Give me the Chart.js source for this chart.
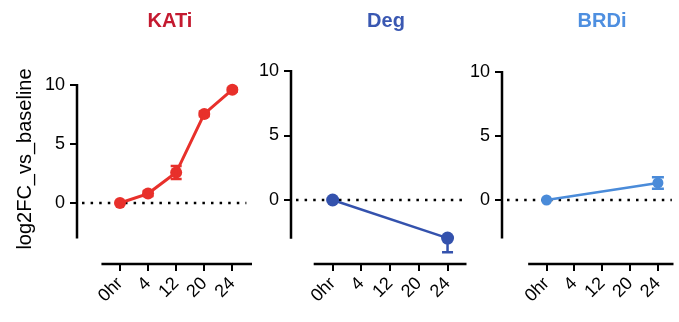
<!DOCTYPE html>
<html>
<head>
<meta charset="utf-8">
<script src="https://cdn.jsdelivr.net/npm/chart.js@4/dist/chart.umd.min.js"></script>
<style>
  body { margin: 0; background: #fff; width: 679px; height: 322px; overflow: hidden; position: relative; }
  canvas { position: absolute; top: 0; }
</style>
</head>
<body>
<canvas id="kati" width="258" height="322" style="left:0"></canvas>
<canvas id="deg" width="223" height="322" style="left:250px"></canvas>
<canvas id="brdi" width="217" height="322" style="left:462px"></canvas>
<script>
const timeLabels = ['0hr', '4', '12', '20', '24'];
const yTickValues = [0, 5, 10];

const katiValues = [0, 0.8, 2.58, 7.55, 9.6];
const katiErrLow = [0, 0.2, 0.55, 0.2, 0.15];
const katiErrHigh = [0, 0.2, 0.55, 0.2, 0.15];

const degValues = [0, null, null, null, -2.95];
const degErrLow = [0, 0, 0, 0, 1.1];
const degErrHigh = [0, 0, 0, 0, 0];

const brdiValues = [0, null, null, null, 1.33];
const brdiErrLow = [0, 0, 0, 0, 0.45];
const brdiErrHigh = [0, 0, 0, 0, 0.45];

const FONT = '"Liberation Sans", Arial, Helvetica, sans-serif';

const toPoints = (values, lo, hi) =>
    values.map((v, i) => ({ x: i, y: v, lo: lo[i], hi: hi[i] })).filter(p => p.y !== null);

// prism style: y axis ends at -3, x axis detached below, dotted zero line, error bars, titles
const panelDecor = {
    id: 'panelDecor',
    beforeDatasetsDraw(chart, args, opts) {
        const { ctx, chartArea: area, scales: { x, y } } = chart;
        ctx.save();
        ctx.strokeStyle = '#000';
        ctx.lineWidth = 2.5;
        ctx.setLineDash([2.5, 6.1]);
        ctx.beginPath();
        ctx.moveTo(area.left + 5, y.getPixelForValue(0));
        ctx.lineTo(x.getPixelForValue(4.5), y.getPixelForValue(0));
        ctx.stroke();
        ctx.setLineDash([]);
        ctx.lineWidth = 2.5;
        ctx.beginPath();
        ctx.moveTo(area.left, y.getPixelForValue(10) - 1);
        ctx.lineTo(area.left, y.getPixelForValue(-3));
        ctx.moveTo(x.getPixelForValue(-0.66), area.bottom);
        ctx.lineTo(area.right, area.bottom);
        ctx.stroke();
        ctx.restore();
    },
    afterDatasetsDraw(chart, args, opts) {
        const { ctx, scales: { x, y } } = chart;
        ctx.save();
        ctx.strokeStyle = opts.color;
        ctx.lineWidth = 2.5;
        chart.data.datasets[0].data.forEach(p => {
            if (!p.lo && !p.hi) return;
            const px = x.getPixelForValue(p.x);
            const top = y.getPixelForValue(p.y + p.hi);
            const bot = y.getPixelForValue(p.y - p.lo);
            const c = opts.capWidth / 2;
            ctx.beginPath();
            ctx.moveTo(px, top);
            ctx.lineTo(px, bot);
            if (p.hi) { ctx.moveTo(px - c, top); ctx.lineTo(px + c, top); }
            if (p.lo) { ctx.moveTo(px - c, bot); ctx.lineTo(px + c, bot); }
            ctx.stroke();
        });
        ctx.restore();
    },
    afterDraw(chart, args, opts) {
        const { ctx } = chart;
        ctx.save();
        ctx.fillStyle = opts.titleColor;
        ctx.font = 'bold 20px ' + FONT;
        ctx.textAlign = 'center';
        ctx.textBaseline = 'middle';
        ctx.fillText(opts.title, opts.titleX, 21);
        if (opts.yTitle) {
            ctx.fillStyle = '#000';
            ctx.font = '20px ' + FONT;
            ctx.translate(25, 159);
            ctx.rotate(-Math.PI / 2);
            ctx.fillText(opts.yTitle, 0, 0);
        }
        ctx.restore();
    }
};

const makePanel = (id, cfg) => {
    const ctx = document.getElementById(id).getContext('2d');
    return new Chart(ctx, {
        type: 'line',
        data: {
            datasets: [{
                data: toPoints(cfg.values, cfg.errLow, cfg.errHigh),
                borderColor: cfg.color,
                backgroundColor: cfg.color,
                borderWidth: cfg.lineWidth,
                pointRadius: cfg.pointRadius,
                pointBorderWidth: 0,
                clip: false
            }]
        },
        options: {
            responsive: false,
            animation: false,
            events: [],
            layout: { padding: { top: cfg.top, right: cfg.right, left: 0, bottom: 0 } },
            scales: {
                x: {
                    type: 'linear',
                    min: cfg.xMin,
                    max: cfg.xMax,
                    afterFit: s => { s.height = 58; },
                    afterBuildTicks: s => { s.ticks = timeLabels.map((t, i) => ({ value: i })); },
                    border: { display: false },
                    grid: { drawOnChartArea: false, drawTicks: true, tickLength: 7, color: '#000', lineWidth: 2 },
                    ticks: {
                        autoSkip: false,
                        minRotation: 45,
                        maxRotation: 45,
                        padding: 2,
                        color: '#000',
                        font: { family: FONT, size: 18 },
                        callback: v => timeLabels[v]
                    }
                },
                y: {
                    min: cfg.yMin,
                    max: 10,
                    afterFit: s => { s.width = cfg.yWidth; },
                    afterBuildTicks: s => { s.ticks = yTickValues.map(v => ({ value: v })); },
                    border: { display: false },
                    grid: { drawOnChartArea: false, drawTicks: true, tickLength: 7, color: '#000', lineWidth: 2 },
                    ticks: { padding: 5, color: '#000', font: { family: FONT, size: 18 } }
                }
            },
            plugins: {
                legend: { display: false },
                tooltip: { enabled: false },
                panelDecor: {
                    title: cfg.title,
                    titleColor: cfg.titleColor,
                    titleX: cfg.titleX,
                    yTitle: cfg.yTitle,
                    color: cfg.color,
                    capWidth: cfg.capWidth
                }
            }
        },
        plugins: [panelDecor]
    });
};

makePanel('kati', {
    values: katiValues, errLow: katiErrLow, errHigh: katiErrHigh,
    color: '#e8302b', titleColor: '#c41a30', title: 'KATi', titleX: 170,
    yTitle: 'log2FC_vs_baseline',
    lineWidth: 3, pointRadius: 6, capWidth: 11,
    top: 85, right: 2, yWidth: 77, yMin: -5.17, xMin: -1.53, xMax: 4.70
});

makePanel('deg', {
    values: degValues, errLow: degErrLow, errHigh: degErrHigh,
    color: '#3452ad', titleColor: '#3a58b2', title: 'Deg', titleX: 136,
    lineWidth: 2.5, pointRadius: 6.5, capWidth: 11,
    top: 71, right: 5, yWidth: 41, yMin: -4.96, xMin: -1.45, xMax: 4.66
});

makePanel('brdi', {
    values: brdiValues, errLow: brdiErrLow, errHigh: brdiErrHigh,
    color: '#4a8bd9', titleColor: '#4e8fe0', title: 'BRDi', titleX: 140,
    lineWidth: 2.5, pointRadius: 5.5, capWidth: 12,
    top: 72, right: 0, yWidth: 40, yMin: -5, xMin: -1.6, xMax: 4.56
});
</script>
</body>
</html>
